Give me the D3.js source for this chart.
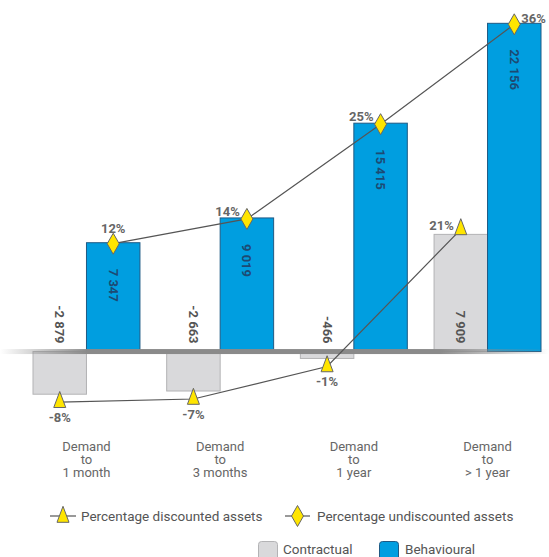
<!DOCTYPE html>
<html>
<head>
<meta charset="utf-8">
<script src="https://cdn.jsdelivr.net/npm/d3@7"></script>
<style>
  body { margin: 0; background: #fff; }
  svg { display: block; font-family: Roboto, "Noto Sans", sans-serif; }
</style>
</head>
<body>
<div id="chart"></div>
<script>
// chart values
var categories = ["Demand to 1 month", "Demand to 3 months", "Demand to 1 year", "Demand to > 1 year"]
var catLines = [["Demand", "to", "1 month"], ["Demand", "to", "3 months"], ["Demand", "to", "1 year"], ["Demand", "to", "> 1 year"]]
var contractual = [-2879, -2663, -466, 7909]
var behavioural = [7347, 9019, 15415, 22156]
var pctDiscounted = [-8, -7, -1, 21]
var pctUndiscounted = [12, 14, 25, 36]
// where the percentage labels sit relative to their marker
var discLabelPos = ["below", "below", "below", "left"]
var undiscLabelPos = ["above", "left", "left", "right"]

const W = 549, H = 557
const fmt = v => d3.format(",")(v).replace(/,/g, " ").replace("\u2212", "-")

const svg = d3.select("#chart").append("svg")
    .attr("width", W).attr("height", H)

const x = d3.scaleBand()
    .domain(categories)
    .range([33, 541])
    .paddingInner(0.2)
    .paddingOuter(0)
const xs = d3.scaleBand()
    .domain(["contractual", "behavioural"])
    .range([0, x.bandwidth()])
const y = d3.scaleLinear()
    .domain([-3000, 24000])
    .range([396, -4])

var rows = categories.map((c, i) => ({
    cat: c, lines: catLines[i],
    contractual: contractual[i], behavioural: behavioural[i],
    disc: pctDiscounted[i], undisc: pctUndiscounted[i],
    discPos: discLabelPos[i], undiscPos: undiscLabelPos[i]
}))

// gradient for the zero line
const defs = svg.append("defs")
const grad = defs.append("linearGradient").attr("id", "axisGrad")
    .attr("x1", "0%").attr("x2", "100%")
grad.append("stop").attr("offset", "0%").attr("stop-color", "#8a8a8a").attr("stop-opacity", 0)
grad.append("stop").attr("offset", "16%").attr("stop-color", "#8a8a8a").attr("stop-opacity", 1)
grad.append("stop").attr("offset", "80%").attr("stop-color", "#8a8a8a").attr("stop-opacity", 1)
grad.append("stop").attr("offset", "100%").attr("stop-color", "#8a8a8a").attr("stop-opacity", 0)

// bars
const g = svg.append("g")
const groups = g.selectAll("g.grp").data(rows).enter().append("g")
    .attr("class", "grp")
    .attr("transform", d => "translate(" + x(d.cat) + ",0)")

groups.append("rect")
    .attr("x", xs("contractual"))
    .attr("width", xs.bandwidth())
    .attr("y", d => y(Math.max(0, d.contractual)))
    .attr("height", d => Math.abs(y(d.contractual) - y(0)))
    .attr("fill", "#d9d9db")
    .attr("stroke", "#b3b3b5")
    .attr("stroke-width", 1)

groups.append("rect")
    .attr("x", xs("behavioural"))
    .attr("width", xs.bandwidth())
    .attr("y", d => y(Math.max(0, d.behavioural)))
    .attr("height", d => Math.abs(y(d.behavioural) - y(0)))
    .attr("fill", "#009ee0")
    .attr("stroke", "#1f5a84")
    .attr("stroke-width", 1)

// zero line
svg.append("rect")
    .attr("x", 0).attr("width", W)
    .attr("y", y(0) - 2.5).attr("height", 5)
    .attr("fill", "url(#axisGrad)")

// bar value labels (rotated)
groups.append("text")
    .attr("transform", d => "translate(" + (xs("contractual") + xs.bandwidth() / 2) + "," + (y(0) - 8) + ") rotate(90)")
    .attr("text-anchor", "end")
    .attr("dy", "0.35em")
    .attr("fill", "#555")
    .style("font-size", "13px")
    .style("font-weight", "bold")
    .text(d => fmt(d.contractual))

groups.append("text")
    .attr("transform", d => "translate(" + (xs("behavioural") + xs.bandwidth() / 2) + "," + (y(d.behavioural) + 26) + ") rotate(90)")
    .attr("text-anchor", "start")
    .attr("dy", "0.35em")
    .attr("fill", "#1d4a73")
    .style("font-size", "13px")
    .style("font-weight", "bold")
    .text(d => fmt(d.behavioural))

// marker positions
const discX = d => x(d.cat) + xs("contractual") + xs.bandwidth() / 2
const discY = d => y(d.contractual) + (d.contractual < 0 ? 8 : -5)
const undX = d => x(d.cat) + xs("behavioural") + xs.bandwidth() / 2
const undY = d => y(d.behavioural) + 1

const lineDisc = d3.line().x(discX).y(discY)
const lineUnd = d3.line().x(undX).y(undY)

svg.append("path").attr("d", lineDisc(rows))
    .attr("fill", "none").attr("stroke", "#555").attr("stroke-width", 1.2)
svg.append("path").attr("d", lineUnd(rows))
    .attr("fill", "none").attr("stroke", "#555").attr("stroke-width", 1.2)

const triPath = "M0,-10.7L6,5.3L-6,5.3Z"
const diaPath = "M0,-10.5L6,0L0,10.5L-6,0Z"

svg.selectAll("path.tri").data(rows).enter().append("path")
    .attr("class", "tri")
    .attr("d", triPath)
    .attr("transform", d => "translate(" + discX(d) + "," + discY(d) + ")")
    .attr("fill", "#ffe500").attr("stroke", "#666").attr("stroke-width", 1)

svg.selectAll("path.dia").data(rows).enter().append("path")
    .attr("class", "dia")
    .attr("d", diaPath)
    .attr("transform", d => "translate(" + undX(d) + "," + undY(d) + ")")
    .attr("fill", "#ffe500").attr("stroke", "#666").attr("stroke-width", 1)

function placeLabel(sel, fx, fy, pos, val) {
    sel.attr("x", d => {
            var p = pos(d)
            return p == "left" ? fx(d) - 7 : p == "right" ? fx(d) + 7 : fx(d)
        })
        .attr("y", d => {
            var p = pos(d)
            if (p == "above") return fy(d) - 11
            if (p == "below") return fy(d) + 20
            return fy(d) - 1
        })
        .attr("text-anchor", d => {
            var p = pos(d)
            return p == "left" ? "end" : p == "right" ? "start" : "middle"
        })
        .attr("fill", "#666")
        .style("font-size", "13px")
        .style("font-weight", "bold")
        .text(d => val(d) + "%")
}

placeLabel(svg.selectAll("text.dl").data(rows).enter().append("text").attr("class", "dl"),
    discX, d => discY(d) + (d.discPos == "left" ? 2 : 0), d => d.discPos, d => d.disc)
placeLabel(svg.selectAll("text.ul").data(rows).enter().append("text").attr("class", "ul"),
    undX, d => undY(d) - (d.undiscPos == "left" ? 2 : 0), d => d.undiscPos, d => d.undisc)

// category labels
const catG = svg.selectAll("text.cat").data(rows).enter().append("text")
    .attr("class", "cat")
    .attr("x", d => x(d.cat) + x.bandwidth() / 2)
    .attr("y", 451)
    .attr("text-anchor", "middle")
    .attr("fill", "#666")
    .style("font-size", "13px")
catG.selectAll("tspan").data(d => d.lines.map(l => ({ l: l, x: x(d.cat) + x.bandwidth() / 2 })))
    .enter().append("tspan")
    .attr("x", t => t.x)
    .attr("dy", (t, i) => i == 0 ? 0 : 13)
    .text(t => t.l)

// legend
const leg1 = svg.append("g").attr("transform", "translate(50,516)")
leg1.append("line").attr("x1", 0).attr("x2", 26).attr("stroke", "#555").attr("stroke-width", 1.2)
leg1.append("path").attr("d", triPath).attr("transform", "translate(13,1)")
    .attr("fill", "#ffe500").attr("stroke", "#666")
leg1.append("text").attr("x", 31).attr("y", 4.5).attr("fill", "#555")
    .style("font-size", "13.5px").text("Percentage discounted assets")

const leg2 = svg.append("g").attr("transform", "translate(285,516)")
leg2.append("line").attr("x1", 0).attr("x2", 25).attr("stroke", "#555").attr("stroke-width", 1.2)
leg2.append("path").attr("d", diaPath).attr("transform", "translate(12.5,0)")
    .attr("fill", "#ffe500").attr("stroke", "#666")
leg2.append("text").attr("x", 32).attr("y", 4.5).attr("fill", "#555")
    .style("font-size", "13.5px").text("Percentage undiscounted assets")

const leg3 = svg.append("g").attr("transform", "translate(258,541)")
leg3.append("rect").attr("x", 0.5).attr("y", 0.5).attr("width", 19).attr("height", 20).attr("rx", 3)
    .attr("fill", "#d9d9db").attr("stroke", "#b3b3b5")
leg3.append("text").attr("x", 25).attr("y", 13).attr("fill", "#555")
    .style("font-size", "13.5px").text("Contractual")
leg3.append("rect").attr("x", 121.5).attr("y", 0.5).attr("width", 19).attr("height", 20).attr("rx", 3)
    .attr("fill", "#009ee0").attr("stroke", "#1f5a84")
leg3.append("text").attr("x", 147).attr("y", 13).attr("fill", "#555")
    .style("font-size", "13.5px").text("Behavioural")
</script>
</body>
</html>
